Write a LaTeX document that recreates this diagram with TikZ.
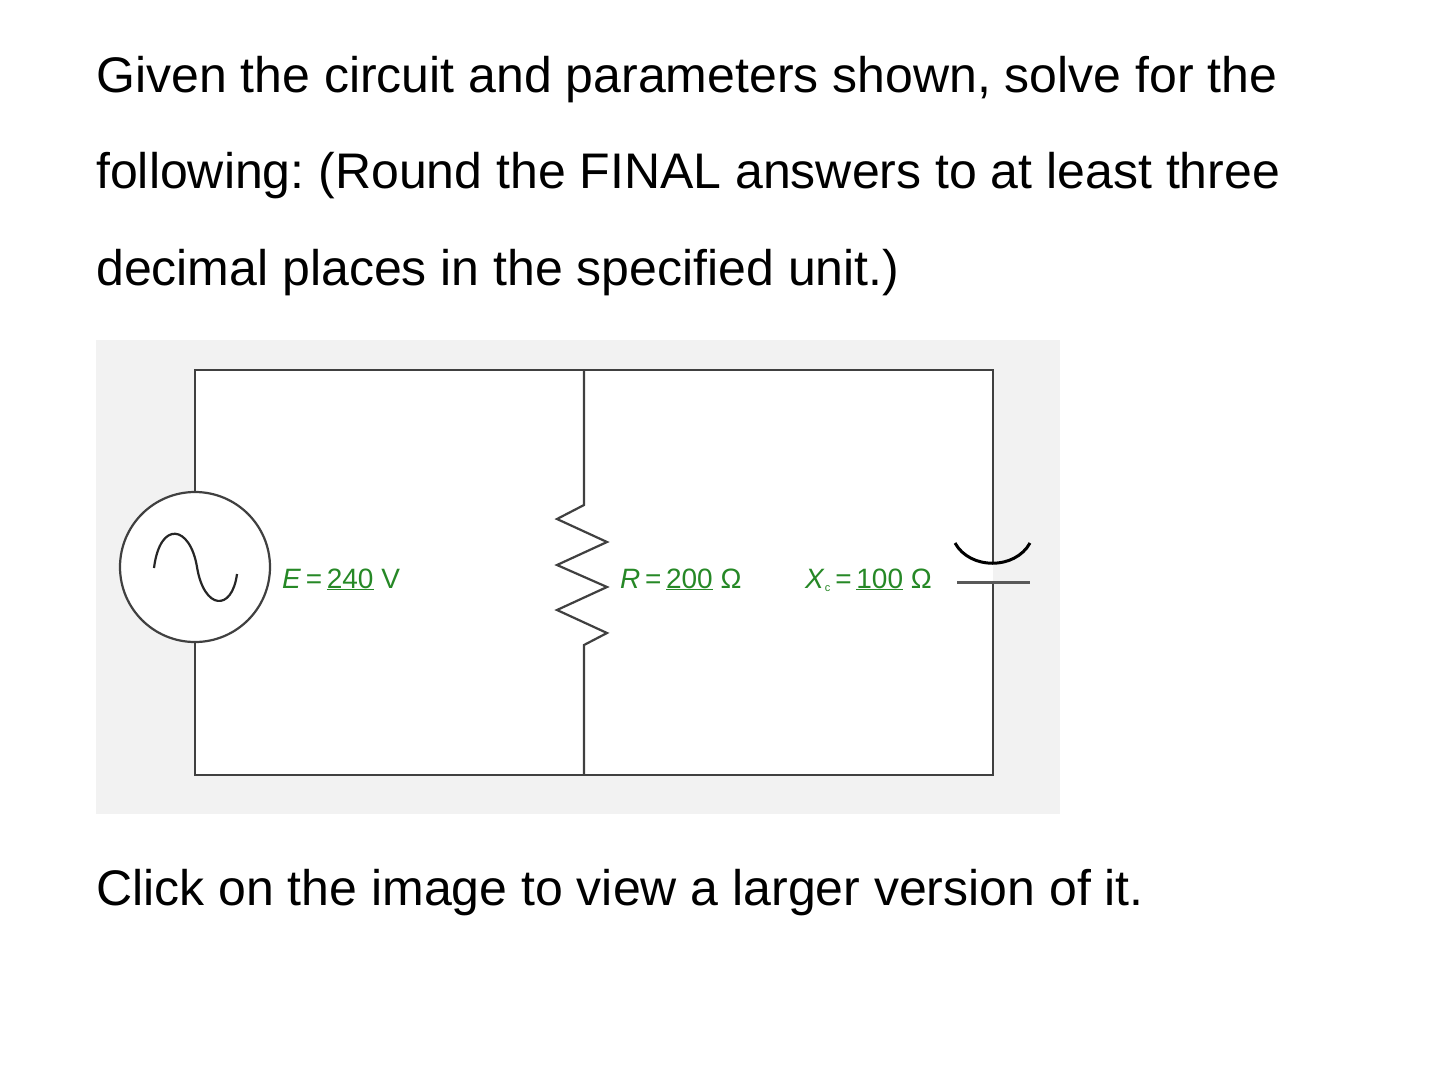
\documentclass[tikz,border=0pt]{standalone}
\usepackage{fontspec}
\setmainfont{Liberation Sans}
\newfontfamily\lblfont{Liberation Sans}
\frenchspacing
\begin{document}
\begin{tikzpicture}[x=1pt,y=-1pt,
  wire/.style={draw=black!75,line width=2.2pt},
  txt/.style={anchor=base west,inner sep=0,font=\fontsize{50}{60}\selectfont},
  lbl/.style={anchor=base west,inner sep=0,text=green!45!black!85,font=\lblfont\fontsize{28}{30}\selectfont}]
\useasboundingbox (0,0) rectangle (1440,1069);
\fill[white] (0,0) rectangle (1440,1069);
\node[txt] (t1) at (96,92) {Given the circuit and parameters shown, solve for the};
\node[txt] (t2) at (96,188) {following: (Round the FINAL answers to at least three};
\node[txt] (t3) at (96,285) {decimal places in the specified unit.)};
\node[txt] (t4) at (96,905) {Click on the image to view a larger version of it.};
\fill[black!5] (96,340) rectangle (1060,814);
\fill[white] (195,370) rectangle (993,775);
\node[draw=black!75,line width=2.2pt,circle,minimum size=150pt,fill=white] (src) at (195,567) {};
\coordinate (tl) at (195,370); \coordinate (tm) at (584,370); \coordinate (tr) at (993,370);
\coordinate (bl) at (195,775); \coordinate (bm) at (584,775); \coordinate (br) at (993,775);
\draw[wire] (src.north) -- (tl) -- (tr) -- (993,563);
\draw[wire] (src.south) -- (bl) -- (br) -- (993,584);
\draw[wire] (tm) -- (584,505) -- (557,519) -- (607,542) -- (557,565) -- (607,587) -- (557,610) -- (607,633) -- (584,645) -- (bm);
\draw[black!85,line width=2.2pt] (154,568) .. controls (160,520) and (190,525) .. (197,567) .. controls (204,610) and (232,612) .. (237,574);
\draw[black,line width=3pt] (955,543) .. controls (970,570) and (1015,570) .. (1030,543);
\draw[black!65,line width=3pt] (957,582) -- (1030,582);
\node[lbl] (e) at (282,588) {\textit{E}\,=\,\underline{240} V};
\node[lbl] (r) at (620,588) {\textit{R}\,=\,\underline{200} Ω};
\node[lbl] (x) at (805,588) {\textit{X}\textsubscript{\fontsize{11}{11}\selectfont c}\,=\,\underline{100} Ω};
\end{tikzpicture}
\end{document}
